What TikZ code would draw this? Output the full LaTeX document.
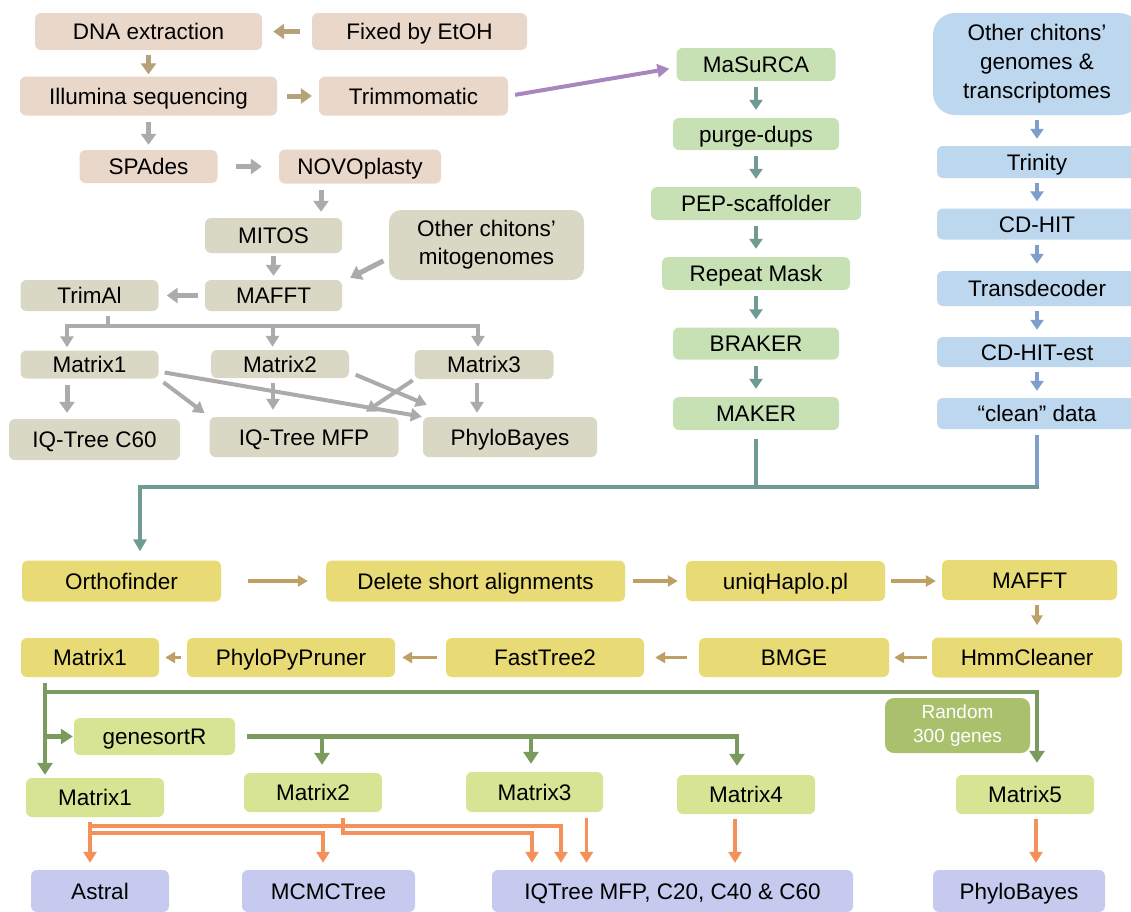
\documentclass[tikz,border=0pt]{standalone}
\usepackage{fontspec}
\setmainfont{Liberation Sans}
\usetikzlibrary{arrows.meta,calc}
\definecolor{cBeige}{HTML}{E9D7CA}
\definecolor{cTan}{HTML}{B5A27B}
\definecolor{cGrey}{HTML}{ABABAB}
\definecolor{cGG}{HTML}{D8D8C5}
\definecolor{cPurp}{HTML}{A886C0}
\definecolor{cGreen}{HTML}{C7E1B5}
\definecolor{cTeal}{HTML}{6F9B92}
\definecolor{cBlue}{HTML}{BDD7EE}
\definecolor{cBlueA}{HTML}{7E9FCB}
\definecolor{cYel}{HTML}{E8DA74}
\definecolor{cTanB}{HTML}{BE9F66}
\definecolor{cOlive}{HTML}{7B9A5E}
\definecolor{cLO}{HTML}{D7E494}
\definecolor{cRnd}{HTML}{A9C06C}
\definecolor{cOr}{HTML}{F4915A}
\definecolor{cLav}{HTML}{C5CAEE}
\begin{document}
\begin{tikzpicture}[x=1pt,y=-1pt,
  every node/.style={font=\fontsize{22.5}{27}\selectfont},
  mbox/.style={rectangle, rounded corners=6pt, inner sep=0pt, align=center, draw=none},
  box/.style={mbox, text height=16pt, text depth=0pt},
  sz/.style 2 args={minimum width=#1pt, minimum height=#2pt},
  beige/.style={box, fill=cBeige},
  gg/.style={box, fill=cGG},
  gr/.style={box, fill=cGreen},
  bl/.style={box, fill=cBlue},
  ye/.style={box, fill=cYel},
  lo/.style={box, fill=cLO},
  rndbox/.style={mbox, fill=cRnd, text=white, rounded corners=9pt, font=\fontsize{19}{24}\selectfont},
  lav/.style={box, fill=cLav},
  tanA/.style={draw=cTan, line width=5pt, -{Triangle[length=11pt,width=15pt]}},
  greyA/.style={draw=cGrey, line width=5pt, -{Triangle[length=11pt,width=15pt]}},
  greyB/.style={draw=cGrey, line width=4pt, -{Triangle[length=11pt,width=13pt]}},
  greyL/.style={draw=cGrey, line width=4pt},
  purpA/.style={draw=cPurp, line width=4pt, -{Triangle[length=12pt,width=13pt]}},
  tealA/.style={draw=cTeal, line width=4pt, -{Triangle[length=10pt,width=13pt]}},
  tealL/.style={draw=cTeal, line width=4.5pt},
  tealB/.style={draw=cTeal, line width=4.5pt, -{Triangle[length=12pt,width=13pt]}},
  blueA/.style={draw=cBlueA, line width=4pt, -{Triangle[length=10pt,width=13pt]}},
  blueL/.style={draw=cBlueA, line width=4.5pt},
  ytanA/.style={draw=cTanB, line width=3.5pt, -{Triangle[length=10pt,width=11pt]}},
  oliveA/.style={draw=cOlive, line width=4.5pt, -{Triangle[length=12pt,width=15pt]}},
  orA/.style={draw=cOr, line width=3.5pt, -{Triangle[length=11pt,width=13pt]}}
]
\useasboundingbox (0,0) rectangle (1131,911);

% ---------- top-left (beige) ----------
\node[beige, sz={227}{37}] (dna) at (148.5,31.5) {DNA extraction};
\node[beige, sz={215}{37}] (etoh) at (419.5,31.5) {Fixed by EtOH};
\node[beige, sz={257}{39}] (ill) at (148.5,96) {Illumina sequencing};
\node[beige, sz={189}{39}] (trim) at (413.5,96) {Trimmomatic};
\node[beige, sz={138}{33}] (spades) at (148.5,166.5) {SPAdes};
\node[beige, sz={162}{34}] (novo) at (360,166.5) {NOVOplasty};

% ---------- grey-green ----------
\node[gg, sz={137}{35}] (mitos) at (273.5,235.5) {MITOS};
\node[mbox, fill=cGG, sz={195}{70}, rounded corners=12pt, font=\fontsize{22.5}{28}\selectfont] (omito) at (486.5,245) {Other chitons’\\mitogenomes};
\node[gg, sz={137}{31}] (mafft) at (273.5,295.5) {MAFFT};
\node[gg, sz={138}{31}] (trimal) at (89.5,295.5) {TrimAl};
\node[gg, sz={138}{28}] (m1) at (89.5,364.5) {Matrix1};
\node[gg, sz={138}{28}] (m2) at (280,364) {Matrix2};
\node[gg, sz={139}{29}] (m3) at (484,364.5) {Matrix3};
\node[gg, sz={171}{41}] (c60) at (94.5,439.5) {IQ-Tree C60};
\node[gg, sz={189}{40}] (mfp) at (304,437) {IQ-Tree MFP};
\node[gg, sz={174}{40}] (pb1) at (510,437) {PhyloBayes};

% ---------- green column ----------
\node[gr, sz={159}{33}] (masurca) at (756,64.5) {MaSuRCA};
\node[gr, sz={166}{32}] (purge) at (756,134) {purge-dups};
\node[gr, sz={210}{33}] (pep) at (756,203.5) {PEP-scaffolder};
\node[gr, sz={188}{33}] (rmask) at (756,273.5) {Repeat Mask};
\node[gr, sz={166}{32}] (braker) at (756,343.5) {BRAKER};
\node[gr, sz={166}{33}] (maker) at (756,413.5) {MAKER};

% ---------- blue column ----------
\node[mbox, fill=cBlue, sz={208}{102}, rounded corners=22pt, font=\fontsize{22.5}{29}\selectfont] (ogen) at (1037,64) {Other chitons’\\genomes \&\\transcriptomes};
\node[bl, sz={200}{32}] (trinity) at (1037,162) {Trinity};
\node[bl, sz={200}{31}] (cdhit) at (1037,224) {CD-HIT};
\node[bl, sz={200}{35}] (transd) at (1037,288.5) {Transdecoder};
\node[bl, sz={200}{30}] (cdhitest) at (1037,352) {CD-HIT-est};
\node[bl, sz={200}{31}] (clean) at (1037,413.5) {“clean” data};

% ---------- yellow ----------
\node[ye, sz={199}{41}] (ortho) at (121.5,581) {Orthofinder};
\node[ye, sz={299}{41}] (delshort) at (475.5,581) {Delete short alignments};
\node[ye, sz={199}{40}] (uniq) at (785.5,581) {uniqHaplo.pl};
\node[ye, sz={175}{40}] (ymafft) at (1029.5,580) {MAFFT};
\node[ye, sz={190}{40}] (hmm) at (1027,657.5) {HmmCleaner};
\node[ye, sz={190}{39}] (bmge) at (794,657.5) {BMGE};
\node[ye, sz={198}{39}] (ft2) at (545,657.5) {FastTree2};
\node[ye, sz={208}{39}] (ppp) at (291,657.5) {PhyloPyPruner};
\node[ye, sz={138}{39}] (ym1) at (90,657.5) {Matrix1};

% ---------- lower olive ----------
\node[lo, sz={161}{37}] (gsr) at (154.5,736.5) {genesortR};
\node[rndbox, sz={145}{55}] (rnd) at (957.5,725.5) {Random\\300 genes};
\node[lo, sz={138}{39}] (lm1) at (95,797.5) {Matrix1};
\node[lo, sz={138}{39}] (lm2) at (313,792.5) {Matrix2};
\node[lo, sz={137}{40}] (lm3) at (534.5,792) {Matrix3};
\node[lo, sz={138}{39}] (lm4) at (746,794.5) {Matrix4};
\node[lo, sz={138}{39}] (lm5) at (1025,794.5) {Matrix5};

% ---------- lavender ----------
\node[lav, sz={138}{42}] (astral) at (100,891) {Astral};
\node[lav, sz={173}{42}] (mcmc) at (328.5,891) {MCMCTree};
\node[lav, sz={361}{42}] (iq) at (672.5,891) {IQTree MFP, C20, C40 \& C60};
\node[lav, sz={172}{42}] (pb2) at (1019,891) {PhyloBayes};

% ================= connectors =================
% top
\draw[tanA, shorten <=12pt, shorten >=11pt] (etoh) -- (dna);
\draw[tanA, shorten <=5pt, shorten >=2pt] (dna) -- (ill);
\draw[tanA, shorten <=10pt, shorten >=7pt] (ill) -- (trim);
\draw[greyA, shorten <=6.5pt, shorten >=5pt] (ill) -- (spades);
\draw[greyA, shorten <=18pt, shorten >=17pt] (spades) -- (novo);
\coordinate (nv) at ([xshift=-39pt]novo.south);
\draw[greyA, shorten <=6pt, shorten >=6pt] (nv) -- (nv |- mitos.north);
\draw[purpA, shorten <=7pt, shorten >=7pt] (trim.east) -- ([yshift=-3pt]masurca.west);

% grey section
\draw[greyA, shorten <=3pt, shorten >=4pt] (mitos) -- (mafft);
\draw[greyA, shorten <=6pt] ([yshift=-13pt]omito.west) -- ([xshift=8pt,yshift=2pt]mafft.north east);
\draw[greyA, shorten <=7pt, shorten >=8pt] (mafft) -- (trimal);
\coordinate (tstem) at ([xshift=18pt]trimal.south);
\coordinate (br) at ([yshift=-15pt]trimal.south);
\draw[greyL, shorten <=5pt] (tstem) -- (tstem |- br);
\coordinate (b1) at ([xshift=-22.5pt]m1.north);
\coordinate (b2) at ([xshift=-7.5pt]m2.north);
\coordinate (b3) at ([xshift=-6pt]m3.north);
\draw[greyL, line cap=rect] (b1 |- br) -- (b3 |- br);
\draw[greyB, shorten >=3pt] (b1 |- br) -- (b1);
\draw[greyB, shorten >=3pt] (b2 |- br) -- (b2);
\draw[greyB, shorten >=3pt] (b3 |- br) -- (b3);
\coordinate (c1) at ([xshift=-22.5pt]m1.south);
\draw[greyA, shorten <=6pt, shorten >=6pt] (c1) -- (c1 |- c60.north);
\coordinate (c2) at ([xshift=-7pt]m2.south);
\draw[greyB, shorten <=5pt, shorten >=7pt] (c2) -- (c2 |- mfp.north);
\coordinate (c3) at ([xshift=-7pt]m3.south);
\draw[greyB, shorten <=4pt, shorten >=4pt] (c3) -- (c3 |- pb1.north);
\draw[greyB, shorten <=6pt, shorten >=6pt] (m1.south east) -- (mfp.north west);
\draw[greyB, shorten <=6pt, shorten >=1pt] ([yshift=-7pt]m1.east) -- (pb1.north west);
\draw[greyB, shorten <=7pt] ([yshift=-8pt]m2.east) -- ([xshift=4pt,yshift=12pt]pb1.north west);
\draw[greyB, shorten <=2pt] (m3.south west) -- ([xshift=-33pt,yshift=5pt]mfp.north east);

% green column
\foreach \a/\b in {masurca/purge, purge/pep, pep/rmask, rmask/braker, braker/maker}
  \draw[tealA, shorten <=6pt, shorten >=8pt] (\a) -- (\b);
% blue column
\foreach \a/\b in {ogen/trinity, trinity/cdhit, cdhit/transd, transd/cdhitest, cdhitest/clean}
  \draw[blueA, shorten <=5pt, shorten >=7pt] (\a) -- (\b);

% big connector
\coordinate (hub) at ([xshift=18.5pt,yshift=73.5pt]ortho.north);
\draw[blueL, shorten <=8pt, line cap=rect] (clean.south) -- (clean.south |- hub);
\draw[tealL, line cap=rect] (clean.south |- hub) -- (maker.south |- hub);
\draw[tealB, shorten <=9pt, shorten >=9pt] (maker.south) |- (hub) -- (hub |- ortho.north);

% yellow
\draw[ytanA, shorten <=27pt, shorten >=18pt] (ortho) -- (delshort);
\draw[ytanA, shorten <=8pt, shorten >=8pt] (delshort) -- (uniq);
\draw[ytanA, shorten <=6pt, shorten >=6pt] (uniq) -- (uniq -| ymafft.west);
\coordinate (ym) at ([xshift=7.5pt]ymafft.south);
\draw[ytanA, shorten <=5pt, shorten >=12pt] (ym) -- (ym |- hmm.north);
\draw[ytanA, shorten <=5pt, shorten >=5pt] (hmm) -- (bmge);
\draw[ytanA, shorten <=12pt, shorten >=11pt] (bmge) -- (ft2);
\draw[ytanA, shorten <=9pt, shorten >=7pt] (ft2) -- (ppp);
\draw[ytanA, shorten <=6pt, shorten >=6pt] (ppp) -- (ym1);

% olive
\coordinate (ov) at ([xshift=-45pt]ym1.south);
\coordinate (oh) at ([yshift=-15pt]ov);
\draw[oliveA, shorten <=6pt, shorten >=3pt] (ov) -- (ov |- lm1.north);
\coordinate (m5a) at ([xshift=12pt]lm5.north);
\draw[oliveA, shorten >=12pt] (oh) -| (m5a);
\draw[oliveA, shorten >=1pt] (oh |- gsr.west) -- (gsr.west);
\coordinate (g2) at ([xshift=9pt]lm2.north);
\coordinate (g3) at ([xshift=-3.5pt]lm3.north);
\coordinate (g4) at ([xshift=-9pt]lm4.north);
\draw[oliveA, shorten <=12pt, shorten >=9pt] (gsr.east) -| (g4);
\draw[oliveA, shorten >=8pt] (g2 |- gsr.east) -- (g2);
\draw[oliveA, shorten >=8pt] (g3 |- gsr.east) -- (g3);

% orange
\coordinate (r1) at ([yshift=-9pt]lm1.south);
\coordinate (r2) at ([yshift=-16pt]lm1.south);
\coordinate (o1) at ([xshift=-5pt]lm1.south);
\draw[orA, shorten <=5pt, shorten >=7pt] (o1) -- (o1 |- astral.north);
\coordinate (iq1) at ([xshift=-140.5pt]iq.north);
\coordinate (iq2) at ([xshift=-111.5pt]iq.north);
\coordinate (mc) at ([xshift=-5.5pt]mcmc.north);
\draw[orA, shorten >=7pt] (o1 |- r1) -| (iq2);
\draw[orA, shorten >=7pt] (o1 |- r2) -| (mc);
\coordinate (o2) at ([xshift=30pt]lm2.south);
\draw[orA, shorten <=6pt, shorten >=7pt] (o2) |- (iq1 |- r2) -- (iq1);
\coordinate (o3) at ([xshift=52pt]lm3.south);
\draw[orA, shorten <=6pt, shorten >=7pt] (o3) -- (o3 |- iq.north);
\coordinate (o4) at ([xshift=-11pt]lm4.south);
\draw[orA, shorten <=5pt, shorten >=7pt] (o4) -- (o4 |- iq.north);
\coordinate (o5) at ([xshift=11pt]lm5.south);
\draw[orA, shorten <=5pt, shorten >=7pt] (o5) -- (o5 |- pb2.north);
\end{tikzpicture}
\end{document}
